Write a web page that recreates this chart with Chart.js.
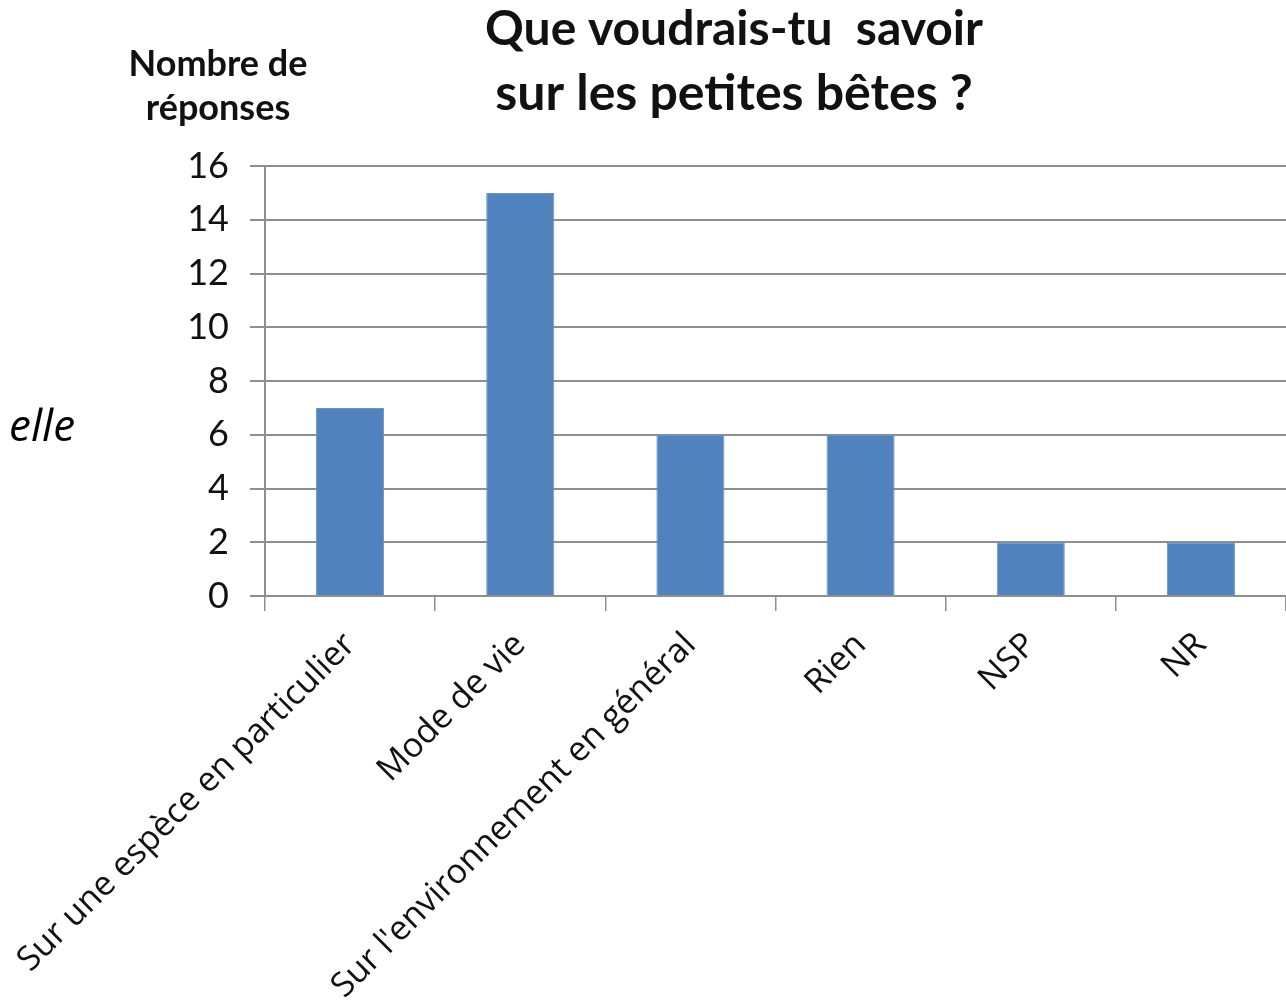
<!DOCTYPE html>
<html lang="fr">
<head>
    <meta charset="UTF-8">
    <title>Que voudrais-tu savoir sur les petites bêtes ?</title>
    <script src="https://cdn.jsdelivr.net/npm/chart.js"></script>
    <style>
        body { margin: 0; background: #fff; }
    </style>
</head>
<body>
    <canvas id="myChart" width="1286" height="1000"></canvas>
    <script>
        // Réponses au questionnaire
        const categories = [
            'Sur une espèce en particulier',
            'Mode de vie',
            "Sur l'environnement en général",
            'Rien',
            'NSP',
            'NR'
        ];
        const reponses = [7, 15, 6, 6, 2, 2];
        const yTicks = [0, 2, 4, 6, 8, 10, 12, 14, 16];

        const titleLines = ['Que voudrais-tu  savoir', 'sur les petites bêtes ?'];
        const yTitleLines = ['Nombre de', 'réponses'];

        const gridColor = '#8f8f8f';

        // textes dessinés à la main autour du graphique
        const textPlugin = {
            id: 'textes',
            afterDraw(chart) {
                const ctx = chart.ctx;
                ctx.save();
                ctx.fillStyle = '#111';
                ctx.textAlign = 'center';
                ctx.textBaseline = 'alphabetic';
                ctx.font = 'bold 48px Lato';
                ctx.fillText(titleLines[0], 734, 45);
                ctx.font = 'bold 50px Lato';
                ctx.fillText(titleLines[1], 734, 110);
                ctx.font = 'bold 36px Lato';
                ctx.fillText(yTitleLines[0], 218, 76);
                ctx.fillText(yTitleLines[1], 218, 120);
                ctx.textAlign = 'left';
                ctx.font = 'italic 44px "Open Sans"';
                ctx.fillStyle = '#000';
                ctx.fillText('elle', 9, 441);
                ctx.restore();
            }
        };

        const ctx = document.getElementById('myChart').getContext('2d');
        new Chart(ctx, {
            type: 'bar',
            data: {
                labels: categories,
                datasets: [{
                    data: reponses,
                    backgroundColor: '#5083be',
                    borderColor: '#6a93c6',
                    borderWidth: 1,
                    categoryPercentage: 1,
                    barPercentage: 0.4
                }]
            },
            options: {
                responsive: false,
                animation: false,
                layout: { padding: { top: 166, left: 0, right: 0, bottom: 0 } },
                plugins: {
                    legend: { display: false },
                    tooltip: { enabled: false }
                },
                scales: {
                    x: {
                        afterFit: (scale) => {
                            scale.height = 404;
                            // les étiquettes inclinées ne doivent pas décaler l'axe
                            scale.paddingLeft = 0;
                            scale.paddingRight = 0;
                        },
                        grid: {
                            offset: true,
                            drawOnChartArea: false,
                            drawTicks: true,
                            tickLength: 15,
                            color: gridColor,
                            lineWidth: 1.5
                        },
                        border: { color: gridColor, width: 2 },
                        ticks: {
                            minRotation: 45,
                            maxRotation: 45,
                            autoSkip: false,
                            padding: 14,
                            color: '#111',
                            font: { family: 'Open Sans', size: 34 }
                        }
                    },
                    y: {
                        min: 0,
                        max: 16,
                        afterFit: (scale) => { scale.width = 265; },
                        afterBuildTicks: (scale) => {
                            scale.ticks = yTicks.map(v => ({ value: v }));
                        },
                        grid: {
                            color: gridColor,
                            lineWidth: 2,
                            tickLength: 15
                        },
                        border: { color: gridColor, width: 2 },
                        ticks: {
                            padding: 21,
                            color: '#111',
                            font: { family: 'Lato', size: 36 }
                        }
                    }
                }
            },
            plugins: [textPlugin]
        });
    </script>
</body>
</html>
